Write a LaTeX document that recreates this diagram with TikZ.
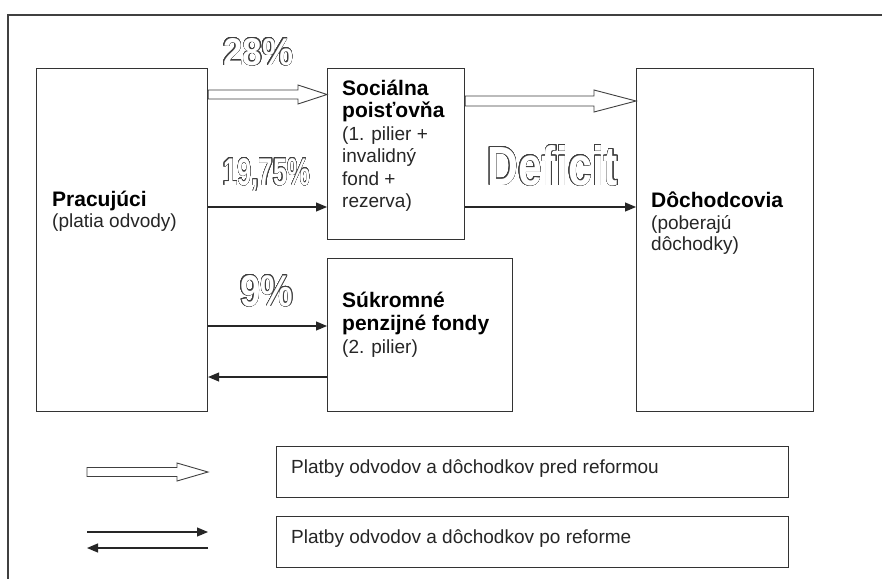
\documentclass[tikz,border=0pt]{standalone}
\usepackage{fontspec}
\setmainfont{Liberation Sans}
\usepackage{graphicx}
\usepackage[copies]{contour}
\contourlength{0.55pt}
\contournumber{24}
\usetikzlibrary{arrows.meta,calc}
\newcommand{\hollowarrow}[5]{%
  \draw[hollow] ($(#1)+(0,#3)$) -- ($(#2)+(-#5,#3)$) -- ($(#2)+(-#5,#4)$) -- (#2)
    -- ($(#2)+(-#5,-#4)$) -- ($(#2)+(-#5,-#3)$) -- ($(#1)+(0,-#3)$) -- cycle;}
\newcommand{\outl}[2]{{\fontsize{#1}{#1}\selectfont\bfseries
  \color{white}\contour{black!75}{#2}}}
\begin{document}
\begin{tikzpicture}[x=1pt,y=-1pt,
  box/.style={draw=black!80, line width=1.1pt, inner sep=0, anchor=north west},
  txt/.style={anchor=base west, inner sep=0, text=black!85, font=\fontsize{19}{22}\selectfont},
  btxt/.style={anchor=base west, inner sep=0, text=black, font=\fontsize{21}{24}\selectfont\bfseries},
  conn/.style={draw=black!85, line width=1.1pt, -{Triangle[length=11pt,width=9pt]}},
  hollow/.style={draw=black!75, line width=0.9pt, fill=white, line join=miter},
  frame/.style={draw=black!75, line width=1.1pt},
  outlbl/.style={anchor=base west, inner sep=0}]
\useasboundingbox (0,0) rectangle (882,579);
\fill[white] (0,0) rectangle (882,579);
% frame
\draw[frame] (882,15) -- (8,15) -- (8,579);
% boxes
\node[box, minimum width=171pt, minimum height=343pt] (prac) at (36,68) {};
\node[box, minimum width=137pt, minimum height=171pt] (soc) at (327,68) {};
\node[box, minimum width=185pt, minimum height=153pt] (suk) at (327,258) {};
\node[box, minimum width=177pt, minimum height=343pt] (doch) at (636,68) {};
\node[box, minimum width=512pt, minimum height=51pt] (leg1) at (276,446) {};
\node[box, minimum width=512pt, minimum height=51pt] (leg2) at (276,516) {};
% helper heights
\coordinate (yA) at (0,94.5);
\coordinate (yB) at (0,101);
\coordinate (yC) at (0,207);
\coordinate (yD) at (0,326);
\coordinate (yE) at (0,377);
% hollow arrows (before reform)
\coordinate (h1s) at (prac.east |- yA);
\coordinate (h1e) at (soc.west |- yA);
\hollowarrow{h1s}{h1e}{4.5}{9.5}{29}
\coordinate (h2s) at (soc.east |- yB);
\coordinate (h2e) at (doch.west |- yB);
\hollowarrow{h2s}{h2e}{5}{11}{42}
% solid arrows (after reform)
\draw[conn] (prac.east |- yC) -- (soc.west |- yC);
\draw[conn] (soc.east |- yC) -- (doch.west |- yC);
\draw[conn] (prac.east |- yD) -- (suk.west |- yD);
\draw[conn] (suk.west |- yE) -- (prac.east |- yE);
% legend arrows
\coordinate (lh1) at (87,472);
\coordinate (lh2) at (208,472);
\hollowarrow{lh1}{lh2}{4.5}{9}{31}
\coordinate (la1) at (87,532);
\coordinate (la2) at (208,532);
\draw[conn] (la1) -- (la2);
\coordinate (lb1) at (208,548);
\coordinate (lb2) at (87,548);
\draw[conn] (lb1) -- (lb2);
% outline labels
\node[outlbl] (p28) at (223,65) {\resizebox{70pt}{27pt}{\outl{38}{28\%}}};
\node[outlbl] (p1975) at (223,185) {\resizebox{87pt}{27pt}{\outl{38}{19,75\%}}};
\node[outlbl] (p9) at (240,306) {\resizebox{53pt}{31pt}{\outl{43}{9\%}}};
\node[outlbl] (pdef) at (487,185) {\resizebox{131pt}{40pt}{\outl{56}{Deficit}}};
% texts
\node[btxt] (prac1) at (52,206) {Pracujúci};
\node[txt] (prac2) at (52,227) {(platia odvody)};
\node[btxt] (soc1) at (342,95) {Sociálna};
\node[btxt] (soc2) at (342,117.5) {poisťovňa};
\node[txt] (soc3) at (342,140) {(1. pilier +};
\node[txt] (soc4) at (342,162.5) {invalidný};
\node[txt] (soc5) at (342,185) {fond +};
\node[txt] (soc6) at (342,207.5) {rezerva)};
\node[btxt] (suk1) at (342,307) {Súkromné};
\node[btxt] (suk2) at (342,330) {penzijné fondy};
\node[txt] (suk3) at (342,353) {(2. pilier)};
\node[btxt] (doch1) at (651,207) {Dôchodcovia};
\node[txt] (doch2) at (651,229) {(poberajú};
\node[txt] (doch3) at (651,250) {dôchodky)};
\node[txt] (leg1t) at (291,473) {Platby odvodov a dôchodkov pred reformou};
\node[txt] (leg2t) at (291,543) {Platby odvodov a dôchodkov po reforme};
\end{tikzpicture}
\end{document}
